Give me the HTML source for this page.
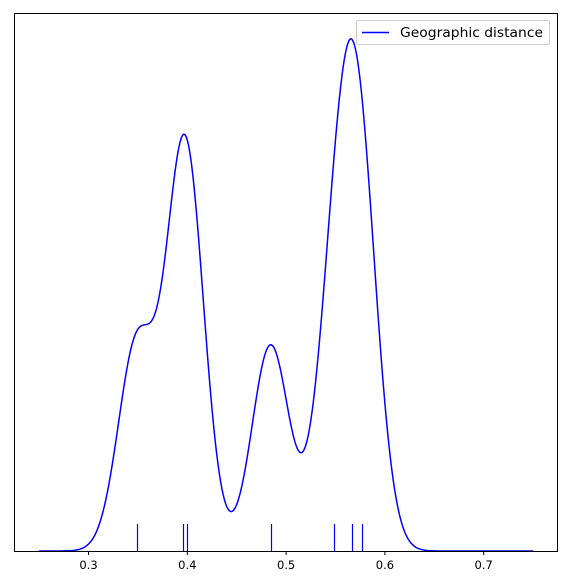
<!DOCTYPE html>
<html><head><meta charset="utf-8"><style>
html,body{margin:0;padding:0;background:#fff;}
svg{display:block;font-family:"DejaVu Sans","Liberation Sans",sans-serif;}
</style></head><body>
<svg id="chart" width="569" height="586" viewBox="0 0 569 586" xmlns="http://www.w3.org/2000/svg">
<g id="plot"></g>
<rect x="14.5" y="13.5" width="543" height="538" fill="none" stroke="#000" stroke-width="1"/>
<g id="xticks"></g>
<g>
<rect x="356.5" y="20.5" width="193" height="24" rx="2" fill="#fff" fill-opacity="0.8" stroke="#ccc"/>
<line x1="362" y1="32.5" x2="389" y2="32.5" stroke="#0000ff" stroke-width="1.5"/>
<text x="400" y="37" font-size="13" textLength="143" lengthAdjust="spacingAndGlyphs" fill="#000">Geographic distance</text>
</g>
</svg>
<script>
const samples = [0.3487, 0.3958, 0.3993, 0.4843, 0.5489, 0.5672, 0.5773];
const tickValues = [0.3, 0.4, 0.5, 0.6, 0.7];
const tickLabels = ["0.3", "0.4", "0.5", "0.6", "0.7"];
const gridMin = 0.25, gridMax = 0.75, bandwidth = 0.0187;

const NS = "http://www.w3.org/2000/svg";
function xs(v){ return 88.5 + (v - 0.3) * 988; }
const yBottom = 551, yPeak = 39;
function kde(x){
  let s = 0;
  for (const p of samples){ const d = (x - p) / bandwidth; s += Math.exp(-0.5 * d * d); }
  return s / (samples.length * bandwidth * Math.sqrt(2 * Math.PI));
}
const pts = [];
let maxD = 0;
for (let i = 0; i <= 400; i++){
  const x = gridMin + (gridMax - gridMin) * i / 400;
  const d = kde(x); pts.push([x, d]); if (d > maxD) maxD = d;
}
function ys(d){ return yBottom - d / maxD * (yBottom - yPeak); }
const plot = document.getElementById("plot");
const path = document.createElementNS(NS, "path");


path.setAttribute("d", pts.map((p, i) => (i ? "L" : "M") + xs(p[0]).toFixed(2) + "," + ys(p[1]).toFixed(2)).join(""));
path.setAttribute("fill", "none");
path.setAttribute("stroke", "#0000ff");
path.setAttribute("stroke-width", "1.5");
plot.appendChild(path);
samples.forEach(s => {
  const l = document.createElementNS(NS, "line");
  
  
  const x = Math.round(xs(s)) + 0.5;
  l.setAttribute("x1", x); l.setAttribute("x2", x);
  l.setAttribute("y1", 524); l.setAttribute("y2", 551);
  l.setAttribute("stroke", "#0000ff"); l.setAttribute("stroke-width", "1.2");
  plot.appendChild(l);
});
const xt = document.getElementById("xticks");
tickValues.forEach((v, i) => {
  const x = xs(v);
  const t = document.createElementNS(NS, "line");
  
  
  t.setAttribute("x1", x); t.setAttribute("x2", x);
  t.setAttribute("y1", 551); t.setAttribute("y2", 555);
  t.setAttribute("stroke", "#000");
  xt.appendChild(t);
  const tx = document.createElementNS(NS, "text");
  
  
  tx.setAttribute("x", x); tx.setAttribute("y", 569);
  tx.setAttribute("text-anchor", "middle");
  tx.setAttribute("font-size", "11.5");
  tx.textContent = tickLabels[i];
  xt.appendChild(tx);
});
</script>
</body></html>
